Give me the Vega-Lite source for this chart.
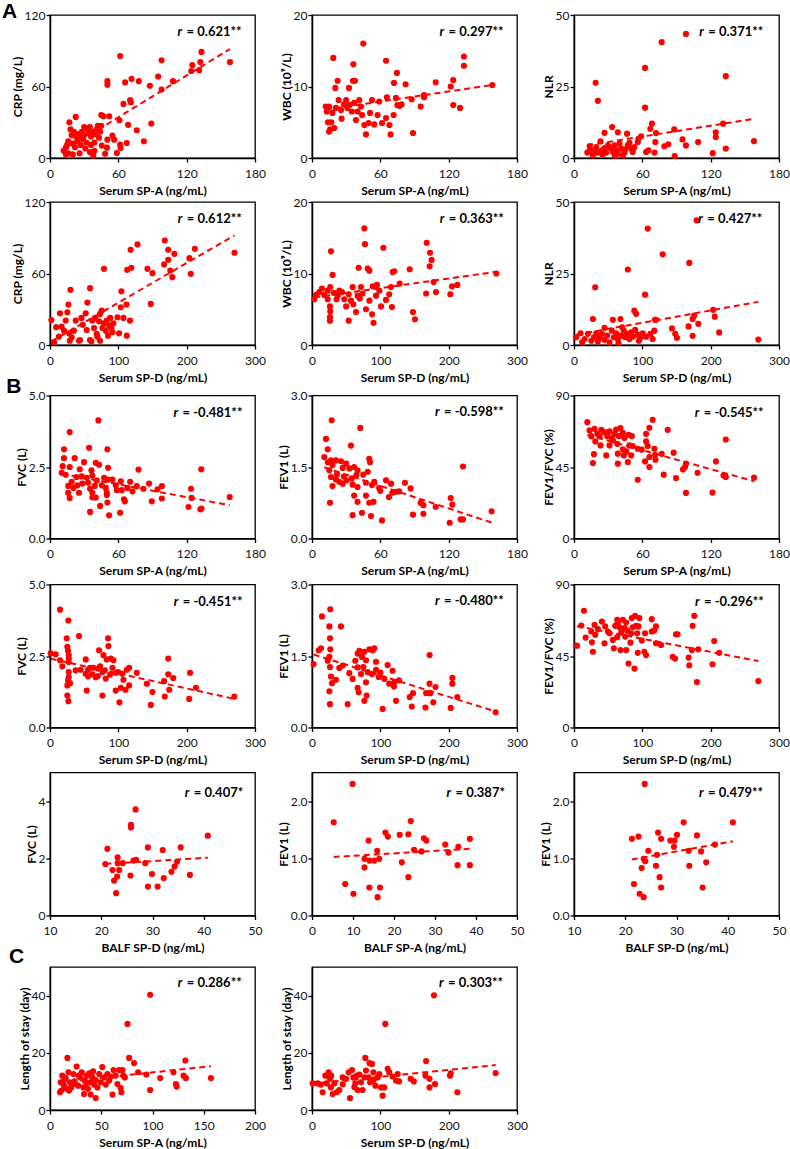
{
"$schema":"https://vega.github.io/schema/vega-lite/v6.json",
"background":"white",
"padding":{"left":1,"top":0,"right":5,"bottom":5},
"config":{
 "font":"Lato",
 "view":{"stroke":"black","strokeWidth":1.3},
 "axis":{"grid":false,"domainColor":"black","domainWidth":1.5,"tickColor":"black","tickWidth":1.3,"tickSize":4,"labelFont":"Lato","labelFontSize":12,"labelColor":"#111111","titleFont":"Lato","titleFontSize":12,"titleFontWeight":"bold","titleColor":"black","labelOverlap":false,"labelFlush":false,"labelBound":false},
 "axisX":{"labelPadding":6,"titlePadding":6},
 "axisY":{"labelPadding":1,"titlePadding":0},
 "title":{"font":"Liberation Sans","fontSize":21,"fontWeight":"bold","color":"black","anchor":"start","frame":"bounds"}
},
"datasets":{
"a1":[{"x":61.6,"y":85.5},{"x":98,"y":82},{"x":133,"y":89},{"x":125,"y":78},{"x":124,"y":73},{"x":132,"y":80.5},{"x":158,"y":80.5},{"x":131,"y":73.7},{"x":95,"y":68.4},{"x":108,"y":64.5},{"x":71.6,"y":66.4},{"x":78,"y":64.5},{"x":66,"y":63.4},{"x":50.4,"y":64.5},{"x":50.4,"y":61.4},{"x":87.7,"y":60.6},{"x":98,"y":57.5},{"x":70.4,"y":48.5},{"x":71,"y":46.8},{"x":64.5,"y":45.4},{"x":52,"y":35},{"x":45,"y":36},{"x":22.6,"y":34.5},{"x":61,"y":31.7},{"x":68.6,"y":27.8},{"x":88.9,"y":28.9},{"x":76.2,"y":23.3},{"x":82.4,"y":14},{"x":67.4,"y":12.6},{"x":61.6,"y":11.2},{"x":62,"y":8.4},{"x":58.7,"y":4.2},{"x":48.4,"y":3.6},{"x":54.8,"y":18.8},{"x":56.3,"y":15.4},{"x":50.4,"y":15.4},{"x":50,"y":8.7},{"x":45.5,"y":10.4},{"x":14,"y":9},{"x":12,"y":6},{"x":14,"y":3},{"x":16,"y":14},{"x":18,"y":24},{"x":17,"y":30},{"x":19,"y":19},{"x":20,"y":12},{"x":21,"y":22},{"x":22,"y":9},{"x":23,"y":18},{"x":24,"y":14},{"x":25,"y":20},{"x":26,"y":17},{"x":27,"y":11},{"x":28,"y":22},{"x":29,"y":16},{"x":30,"y":19},{"x":31,"y":8},{"x":32,"y":13},{"x":33,"y":24},{"x":34,"y":21},{"x":35,"y":26},{"x":36,"y":18},{"x":37,"y":4},{"x":38,"y":22},{"x":38,"y":2},{"x":39,"y":13},{"x":40,"y":20},{"x":41,"y":24},{"x":42,"y":27},{"x":43,"y":17},{"x":44,"y":22},{"x":35,"y":5},{"x":39,"y":6},{"x":26,"y":4},{"x":20,"y":3},{"x":16,"y":4},{"x":15,"y":11},{"x":47,"y":35},{"x":30,"y":26},{"x":36,"y":11},{"x":45,"y":27}],
"a2":[{"x":18.7,"y":14},{"x":45,"y":16},{"x":36.3,"y":13.1},{"x":22.5,"y":10.8},{"x":20.5,"y":9.8},{"x":37.7,"y":10.8},{"x":36,"y":10.8},{"x":32.5,"y":9.8},{"x":65,"y":13.6},{"x":74.6,"y":11.9},{"x":72,"y":10.5},{"x":65.8,"y":8.5},{"x":12,"y":7.2},{"x":13,"y":6.5},{"x":14,"y":5},{"x":15,"y":3.7},{"x":16,"y":4},{"x":17,"y":5},{"x":15,"y":7.2},{"x":18,"y":6.3},{"x":19.6,"y":4.2},{"x":23.4,"y":8.1},{"x":25.5,"y":6.7},{"x":30,"y":8.1},{"x":31,"y":7},{"x":33,"y":7.4},{"x":35,"y":6.5},{"x":37,"y":7.7},{"x":38.6,"y":5.3},{"x":40,"y":6.5},{"x":41.5,"y":8.1},{"x":44,"y":6},{"x":46,"y":4.6},{"x":47.4,"y":3.3},{"x":49.7,"y":4.9},{"x":51,"y":6.3},{"x":52.7,"y":8.1},{"x":54.7,"y":4.7},{"x":57.6,"y":6},{"x":59,"y":7.9},{"x":61.5,"y":4.9},{"x":65,"y":5.6},{"x":68,"y":4.6},{"x":69,"y":3.3},{"x":71.7,"y":6},{"x":73.7,"y":8.4},{"x":75,"y":7.4},{"x":28,"y":7.5},{"x":21,"y":7},{"x":26,"y":5.5},{"x":43,"y":7.2},{"x":133.4,"y":14.2},{"x":133.4,"y":12.9},{"x":108.6,"y":10.6},{"x":124,"y":10.9},{"x":121.8,"y":10},{"x":158.4,"y":10.2},{"x":82.2,"y":10.3},{"x":98.4,"y":8.8},{"x":98.4,"y":8.5},{"x":87.5,"y":8.2},{"x":95.4,"y":7.2},{"x":78.7,"y":7.5},{"x":77,"y":7.3},{"x":124,"y":7.4},{"x":130,"y":7},{"x":88.7,"y":3.5}],
"a3":[{"x":98.3,"y":43.4},{"x":77,"y":40.5},{"x":62.4,"y":31.5},{"x":19,"y":26.3},{"x":21,"y":20},{"x":62.4,"y":17.6},{"x":133.3,"y":28.6},{"x":33.5,"y":10.8},{"x":38.5,"y":9},{"x":26.8,"y":8.8},{"x":46.6,"y":8.5},{"x":68.5,"y":12},{"x":67,"y":10.2},{"x":72,"y":8.7},{"x":59,"y":7.6},{"x":88,"y":10},{"x":131,"y":12},{"x":124.5,"y":9},{"x":124.5,"y":7.3},{"x":95.3,"y":6.5},{"x":98.3,"y":4.4},{"x":109,"y":5.6},{"x":82.8,"y":4.8},{"x":79.3,"y":4.1},{"x":71.4,"y":5.6},{"x":158,"y":5.9},{"x":133.3,"y":3.3},{"x":121.8,"y":1.7},{"x":88.4,"y":0.7},{"x":63.3,"y":2.1},{"x":70.7,"y":1.9},{"x":65.3,"y":2.7},{"x":11.7,"y":1.9},{"x":13.8,"y":4.2},{"x":15.2,"y":2.1},{"x":16.6,"y":0.9},{"x":18,"y":2.7},{"x":19.5,"y":3.8},{"x":21,"y":1.9},{"x":23.3,"y":5.8},{"x":24.5,"y":2.7},{"x":26.8,"y":3.5},{"x":28.3,"y":1.9},{"x":29.8,"y":4.4},{"x":31.2,"y":3.8},{"x":32.7,"y":3.3},{"x":34.2,"y":2.1},{"x":35.6,"y":4.4},{"x":37,"y":2.7},{"x":38.5,"y":1.5},{"x":40,"y":5},{"x":41.4,"y":3.3},{"x":43,"y":0.9},{"x":44.3,"y":1.9},{"x":47.2,"y":4.4},{"x":48.7,"y":5.3},{"x":50.2,"y":3.3},{"x":51.6,"y":2.1},{"x":53,"y":3.8},{"x":56,"y":5.6},{"x":56.6,"y":6.7},{"x":14,"y":3},{"x":25,"y":1.2},{"x":36,"y":0.8},{"x":45,"y":3}],
"d1":[{"x":270,"y":77.4},{"x":212,"y":80.7},{"x":204,"y":72.9},{"x":206,"y":59.7},{"x":168,"y":87.7},{"x":173,"y":79.9},{"x":182,"y":76.5},{"x":167,"y":67.6},{"x":173,"y":71.5},{"x":176,"y":62.5},{"x":179,"y":56.9},{"x":142.6,"y":63.9},{"x":150,"y":60.3},{"x":147.5,"y":34.5},{"x":128,"y":84.4},{"x":118,"y":79.9},{"x":119,"y":64.8},{"x":113,"y":63.1},{"x":79,"y":63.9},{"x":104.5,"y":45.1},{"x":58.6,"y":47.7},{"x":30,"y":46.3},{"x":112,"y":33.9},{"x":103.6,"y":31.7},{"x":107.5,"y":22.7},{"x":117,"y":20.5},{"x":112.4,"y":7.8},{"x":101,"y":9.8},{"x":98.7,"y":23.3},{"x":2,"y":21},{"x":5.9,"y":2.2},{"x":13,"y":7},{"x":14.6,"y":26.6},{"x":17,"y":15.4},{"x":20.5,"y":12},{"x":23,"y":20.5},{"x":25.4,"y":27.5},{"x":28,"y":9.8},{"x":29,"y":3.6},{"x":31.8,"y":6.4},{"x":37.6,"y":20.5},{"x":42.5,"y":3.6},{"x":44,"y":4.2},{"x":46,"y":22.7},{"x":52.3,"y":26.6},{"x":53.7,"y":12.6},{"x":54.7,"y":35.6},{"x":58.6,"y":4.2},{"x":60.6,"y":3.1},{"x":62,"y":20.5},{"x":66,"y":22.7},{"x":68.4,"y":9.3},{"x":69.4,"y":7},{"x":71.8,"y":19.9},{"x":73.3,"y":26.1},{"x":75.7,"y":28.9},{"x":76.7,"y":14.3},{"x":79,"y":18.2},{"x":81.6,"y":12},{"x":83,"y":20.5},{"x":85,"y":7.8},{"x":86.5,"y":16.3},{"x":88,"y":22.7},{"x":90,"y":14.3},{"x":91.4,"y":10.7},{"x":92.8,"y":18.2},{"x":73.3,"y":3.6},{"x":64.5,"y":14.3},{"x":26.9,"y":33.9},{"x":9,"y":15},{"x":35,"y":12},{"x":48,"y":17}],
"d2":[{"x":3.4,"y":6.4},{"x":10.7,"y":7.4},{"x":27.8,"y":13.1},{"x":30.2,"y":9.8},{"x":26.8,"y":8.1},{"x":23,"y":7.6},{"x":23,"y":6.4},{"x":26.3,"y":5.4},{"x":26.8,"y":4.7},{"x":26.3,"y":3.9},{"x":26.3,"y":3.4},{"x":40,"y":7.6},{"x":44,"y":7.4},{"x":50,"y":5.4},{"x":53.7,"y":3.4},{"x":57,"y":6.2},{"x":60.5,"y":5.7},{"x":64.4,"y":4.6},{"x":66.8,"y":6.9},{"x":68.3,"y":10.8},{"x":71.7,"y":8.1},{"x":74,"y":7.2},{"x":76.6,"y":16.3},{"x":77.6,"y":14.1},{"x":81.5,"y":10.7},{"x":84,"y":10.4},{"x":84,"y":6.2},{"x":88.8,"y":8.2},{"x":88,"y":4.3},{"x":90,"y":3.1},{"x":79,"y":5},{"x":93.7,"y":6.9},{"x":98.5,"y":7.6},{"x":101,"y":5.4},{"x":104.4,"y":13.6},{"x":108.3,"y":6.3},{"x":113,"y":7.1},{"x":115.6,"y":8.1},{"x":118,"y":10.2},{"x":120.5,"y":10.3},{"x":117,"y":5.3},{"x":59.5,"y":8.1},{"x":53.7,"y":7.1},{"x":47.3,"y":6.4},{"x":37.6,"y":6.9},{"x":14.6,"y":7.9},{"x":18,"y":7},{"x":36,"y":6.4},{"x":167.8,"y":14.3},{"x":172.7,"y":12.9},{"x":175,"y":11.9},{"x":172.2,"y":11},{"x":143,"y":10.6},{"x":128.3,"y":8.6},{"x":178,"y":8.8},{"x":167,"y":7.2},{"x":181.5,"y":7.4},{"x":202.4,"y":7.1},{"x":205,"y":8.2},{"x":212.7,"y":8.4},{"x":269.8,"y":10},{"x":147.8,"y":4.6},{"x":150.7,"y":3.6},{"x":6,"y":7},{"x":32,"y":7.3},{"x":70,"y":6.5},{"x":95,"y":8.4}],
"d3":[{"x":179.4,"y":43.6},{"x":108,"y":40.7},{"x":129.8,"y":31.7},{"x":168.7,"y":28.7},{"x":78.8,"y":26.4},{"x":104,"y":17.6},{"x":31,"y":20.2},{"x":88.3,"y":12},{"x":90.9,"y":10.9},{"x":120,"y":8.8},{"x":203.7,"y":12.3},{"x":206,"y":9.9},{"x":175.9,"y":10.3},{"x":173.6,"y":9.1},{"x":181.9,"y":7.4},{"x":212.5,"y":4.4},{"x":143.4,"y":5.8},{"x":148.2,"y":3.9},{"x":150.7,"y":2.5},{"x":167.7,"y":6.5},{"x":173.6,"y":3.2},{"x":269.8,"y":1.9},{"x":27.7,"y":9.1},{"x":56.9,"y":8.8},{"x":68,"y":9.1},{"x":70.5,"y":6.2},{"x":3.4,"y":2.7},{"x":9.7,"y":4.1},{"x":15.6,"y":2.1},{"x":20.4,"y":3.9},{"x":25.3,"y":1.5},{"x":29.2,"y":2.7},{"x":32.6,"y":4.1},{"x":37.4,"y":2.5},{"x":40.8,"y":3.9},{"x":44.7,"y":1.8},{"x":48.6,"y":3.3},{"x":52,"y":0.9},{"x":55.4,"y":5},{"x":58.3,"y":2.7},{"x":61.7,"y":4.1},{"x":64.2,"y":2.1},{"x":69,"y":3.3},{"x":72.9,"y":5},{"x":74.9,"y":2.7},{"x":77.8,"y":3.9},{"x":81.2,"y":2.1},{"x":83.6,"y":4.4},{"x":86,"y":2.9},{"x":89.5,"y":5.3},{"x":93.3,"y":3.6},{"x":97.2,"y":2.5},{"x":100.6,"y":4.1},{"x":105.5,"y":2.9},{"x":111.8,"y":3.9},{"x":115.2,"y":2.1},{"x":117.6,"y":5},{"x":118.6,"y":8.8},{"x":44.7,"y":6},{"x":12,"y":1},{"x":35,"y":1.2},{"x":65,"y":0.8},{"x":95,"y":1.5}],
"b1":[{"x":42.5,"y":4.13},{"x":17.3,"y":3.72},{"x":12.3,"y":3.12},{"x":34.3,"y":3.17},{"x":50.4,"y":3.12},{"x":40.2,"y":2.65},{"x":43.1,"y":2.58},{"x":12.3,"y":2.81},{"x":21.7,"y":2.81},{"x":11.1,"y":2.53},{"x":17.3,"y":2.5},{"x":29.9,"y":2.67},{"x":51,"y":2.47},{"x":26.1,"y":2.42},{"x":36.4,"y":2.38},{"x":77.7,"y":2.41},{"x":132.8,"y":2.42},{"x":10.3,"y":2.3},{"x":13.8,"y":2.23},{"x":23.2,"y":2.15},{"x":27.9,"y":2.17},{"x":32.3,"y":2.12},{"x":37.2,"y":2.2},{"x":41,"y":2.03},{"x":47.5,"y":2.12},{"x":51,"y":2.06},{"x":54.8,"y":2.06},{"x":62.2,"y":2},{"x":70.4,"y":1.98},{"x":19,"y":1.98},{"x":16,"y":1.84},{"x":20.5,"y":1.77},{"x":24,"y":1.86},{"x":28.4,"y":1.92},{"x":33.4,"y":1.95},{"x":35.2,"y":1.74},{"x":39.3,"y":1.84},{"x":45.5,"y":1.86},{"x":49,"y":1.77},{"x":57.8,"y":1.86},{"x":63,"y":1.69},{"x":68,"y":1.77},{"x":72.4,"y":1.65},{"x":76.2,"y":1.83},{"x":87,"y":1.92},{"x":82,"y":1.74},{"x":98.2,"y":1.83},{"x":94.4,"y":1.72},{"x":123.8,"y":1.74},{"x":16,"y":1.6},{"x":25.5,"y":1.6},{"x":37.2,"y":1.6},{"x":49.9,"y":1.6},{"x":58.7,"y":1.69},{"x":65,"y":1.37},{"x":65.8,"y":1.3},{"x":17.3,"y":1.42},{"x":37.2,"y":1.44},{"x":40.2,"y":1.43},{"x":49.9,"y":1.52},{"x":44,"y":1.14},{"x":50.4,"y":1.26},{"x":89.4,"y":1.3},{"x":98.2,"y":1.4},{"x":124.3,"y":1.42},{"x":121.6,"y":1.1},{"x":132,"y":1.02},{"x":133,"y":1.05},{"x":157.8,"y":1.45},{"x":35.2,"y":0.93},{"x":51.9,"y":0.81},{"x":61.6,"y":0.9}],
"b2":[{"x":17.3,"y":2.48},{"x":12.3,"y":2.09},{"x":13.8,"y":1.87},{"x":42.4,"y":2.32},{"x":34.2,"y":1.95},{"x":10.8,"y":1.71},{"x":13.8,"y":1.6},{"x":16.7,"y":1.64},{"x":18,"y":1.54},{"x":21,"y":1.64},{"x":25.5,"y":1.62},{"x":30,"y":1.57},{"x":37,"y":1.5},{"x":40,"y":1.43},{"x":27,"y":1.48},{"x":32.8,"y":1.47},{"x":15.2,"y":1.43},{"x":16.7,"y":1.29},{"x":21,"y":1.24},{"x":24,"y":1.19},{"x":27,"y":1.15},{"x":30.4,"y":1.22},{"x":35,"y":1.26},{"x":39,"y":1.33},{"x":45,"y":1.34},{"x":50.3,"y":1.67},{"x":51,"y":1.6},{"x":49,"y":1.4},{"x":18,"y":1.1},{"x":35.7,"y":1.13},{"x":40,"y":1.08},{"x":47.4,"y":1.17},{"x":52.7,"y":1.12},{"x":54.7,"y":1.19},{"x":59,"y":1.06},{"x":65,"y":1.22},{"x":69.4,"y":1.15},{"x":73.7,"y":0.98},{"x":37,"y":0.9},{"x":40,"y":0.77},{"x":47.4,"y":0.9},{"x":50.3,"y":0.75},{"x":54,"y":0.77},{"x":15.8,"y":0.75},{"x":35.7,"y":0.49},{"x":43.9,"y":0.54},{"x":51.8,"y":0.47},{"x":61.5,"y":0.38},{"x":132.6,"y":1.51},{"x":81.6,"y":1.17},{"x":86.6,"y":1.05},{"x":70.5,"y":0.96},{"x":76.4,"y":0.99},{"x":95.4,"y":0.75},{"x":97.8,"y":0.7},{"x":108.6,"y":0.66},{"x":121.8,"y":0.85},{"x":123.2,"y":0.71},{"x":130.5,"y":0.4},{"x":132.6,"y":0.4},{"x":120.9,"y":0.33},{"x":88.7,"y":0.5},{"x":97.8,"y":0.52},{"x":157.7,"y":0.57},{"x":67.6,"y":0.87},{"x":22,"y":1.35},{"x":28,"y":1.3},{"x":60,"y":1.0}],
"b3":[{"x":11.7,"y":73.2},{"x":69.1,"y":74.7},{"x":66.2,"y":69.7},{"x":82.3,"y":68.4},{"x":13.7,"y":68},{"x":15.2,"y":64.4},{"x":18,"y":69},{"x":20.4,"y":65.9},{"x":22.5,"y":64.4},{"x":24,"y":68.4},{"x":26.8,"y":66.9},{"x":29.2,"y":64.4},{"x":31.2,"y":67.4},{"x":33.3,"y":63.2},{"x":35.6,"y":65.9},{"x":37,"y":68.6},{"x":39.4,"y":64.4},{"x":40.8,"y":69.5},{"x":42.9,"y":66.5},{"x":44.3,"y":63.2},{"x":18.7,"y":61.1},{"x":23.3,"y":58.6},{"x":17.5,"y":53.1},{"x":16.6,"y":47.5},{"x":28.3,"y":52.3},{"x":31.2,"y":58.6},{"x":34.2,"y":61.7},{"x":38,"y":59.6},{"x":38.5,"y":53.4},{"x":38.5,"y":47.1},{"x":42.9,"y":56.1},{"x":43.8,"y":52.3},{"x":45.9,"y":54.8},{"x":47.3,"y":48.1},{"x":48.7,"y":58.6},{"x":50.2,"y":52.3},{"x":48,"y":65.3},{"x":50.8,"y":64.4},{"x":51.6,"y":58.2},{"x":56,"y":56.5},{"x":59.5,"y":55.9},{"x":62.4,"y":48.5},{"x":63.3,"y":65.9},{"x":63.3,"y":61.1},{"x":64.7,"y":58.2},{"x":66.2,"y":51.3},{"x":66.2,"y":45},{"x":70.6,"y":56.5},{"x":71.5,"y":49.6},{"x":71.2,"y":52.7},{"x":77,"y":53.3},{"x":87.5,"y":54},{"x":78.8,"y":40.2},{"x":56,"y":37},{"x":89.6,"y":38.1},{"x":97.5,"y":45},{"x":95.7,"y":43.5},{"x":98.3,"y":47.1},{"x":108.5,"y":41.4},{"x":124.6,"y":48.5},{"x":121.6,"y":28.9},{"x":98.3,"y":28.7},{"x":131.3,"y":39.7},{"x":133.3,"y":38.7},{"x":133.3,"y":62.3},{"x":158.1,"y":38.3}],
"e1":[{"x":14.7,"y":4.12},{"x":26.9,"y":3.74},{"x":42.5,"y":3.2},{"x":24.4,"y":3.12},{"x":85,"y":3.12},{"x":25.4,"y":2.82},{"x":26.4,"y":2.68},{"x":85.5,"y":2.85},{"x":71.8,"y":2.7},{"x":1,"y":2.59},{"x":8.3,"y":2.56},{"x":27.4,"y":2.53},{"x":27.4,"y":2.41},{"x":27.4,"y":2.29},{"x":52.3,"y":2.38},{"x":78.2,"y":2.53},{"x":89,"y":2.41},{"x":92.8,"y":2.35},{"x":83,"y":2.38},{"x":173,"y":2.41},{"x":14.7,"y":2.35},{"x":18,"y":2.14},{"x":37.6,"y":2},{"x":44.9,"y":2.02},{"x":55.7,"y":2.02},{"x":58.6,"y":2.09},{"x":63.5,"y":2.09},{"x":70.4,"y":2.06},{"x":73.3,"y":2.14},{"x":76.7,"y":1.94},{"x":80.1,"y":2},{"x":91.4,"y":2.09},{"x":96.2,"y":1.91},{"x":99.7,"y":1.94},{"x":106,"y":1.88},{"x":112.4,"y":2.02},{"x":115.8,"y":2.09},{"x":127,"y":1.91},{"x":52.3,"y":1.88},{"x":55.7,"y":1.79},{"x":62,"y":1.86},{"x":66.9,"y":1.76},{"x":81.6,"y":1.71},{"x":27.4,"y":1.94},{"x":27.4,"y":1.76},{"x":26.4,"y":1.65},{"x":29.3,"y":1.55},{"x":25.4,"y":1.47},{"x":53.7,"y":1.29},{"x":96.2,"y":1.29},{"x":103.6,"y":1.39},{"x":107.5,"y":1.67},{"x":115.8,"y":1.47},{"x":110.5,"y":1.32},{"x":141.7,"y":1.53},{"x":150,"y":1.24},{"x":167,"y":1.62},{"x":173,"y":1.86},{"x":180.3,"y":1.73},{"x":205,"y":1.91},{"x":213.5,"y":1.39},{"x":174.5,"y":1.32},{"x":168,"y":1.08},{"x":203.7,"y":1},{"x":269.7,"y":1.08},{"x":26.9,"y":0.92},{"x":76.7,"y":1.12},{"x":101.6,"y":0.88},{"x":147.5,"y":0.79},{"x":25.4,"y":1.12},{"x":70,"y":1.8},{"x":88,"y":1.85}],
"e2":[{"x":2.4,"y":1.33},{"x":9.8,"y":1.62},{"x":13.2,"y":1.66},{"x":14.6,"y":2.33},{"x":26.8,"y":2.48},{"x":25.4,"y":2.12},{"x":26.3,"y":1.87},{"x":26.8,"y":1.64},{"x":25.4,"y":1.48},{"x":23,"y":1.4},{"x":26.3,"y":1.27},{"x":27.8,"y":1.07},{"x":29.3,"y":0.93},{"x":25.4,"y":0.76},{"x":26.3,"y":0.49},{"x":42.4,"y":2.12},{"x":40,"y":1.25},{"x":52.2,"y":0.49},{"x":54.6,"y":1.14},{"x":59.5,"y":1.02},{"x":63.4,"y":1.4},{"x":66.8,"y":1.55},{"x":69.3,"y":1.61},{"x":73.2,"y":1.48},{"x":76.6,"y":1.59},{"x":79,"y":1.41},{"x":84,"y":1.64},{"x":88.8,"y":1.62},{"x":91.2,"y":1.66},{"x":66.8,"y":1.26},{"x":71.7,"y":1.12},{"x":75,"y":1.27},{"x":79,"y":0.95},{"x":81.5,"y":1.16},{"x":87.8,"y":1.12},{"x":93.7,"y":1.21},{"x":93.7,"y":1.38},{"x":97.6,"y":1.06},{"x":66.8,"y":0.83},{"x":68.3,"y":0.74},{"x":76.6,"y":0.56},{"x":80,"y":0.67},{"x":103.4,"y":0.39},{"x":110.7,"y":1.31},{"x":105.8,"y":1.02},{"x":113,"y":0.92},{"x":118,"y":1.19},{"x":120.5,"y":0.95},{"x":123,"y":0.56},{"x":172.2,"y":1.52},{"x":143,"y":0.64},{"x":147.8,"y":0.72},{"x":127.3,"y":0.99},{"x":120,"y":0.86},{"x":146,"y":0.44},{"x":167,"y":0.72},{"x":173.2,"y":0.72},{"x":172,"y":0.92},{"x":180.8,"y":0.85},{"x":205.4,"y":1.04},{"x":205.4,"y":0.92},{"x":203,"y":0.41},{"x":212.7,"y":0.64},{"x":166,"y":0.42},{"x":177.5,"y":0.53},{"x":268.8,"y":0.32},{"x":45,"y":1.3},{"x":35,"y":1.0},{"x":100,"y":1.15}],
"e3":[{"x":4.4,"y":51.5},{"x":10.7,"y":64.2},{"x":14.6,"y":73.5},{"x":17,"y":56.6},{"x":26.3,"y":53.6},{"x":27.7,"y":47.7},{"x":25.3,"y":60.4},{"x":30.1,"y":64.6},{"x":31.1,"y":58.3},{"x":35,"y":61.9},{"x":40.8,"y":66.7},{"x":45.7,"y":63.6},{"x":49.6,"y":60.4},{"x":52,"y":59.3},{"x":56.9,"y":55.1},{"x":58.3,"y":49.8},{"x":60.3,"y":64},{"x":63.2,"y":67.8},{"x":64.2,"y":65.7},{"x":66.6,"y":63.1},{"x":68,"y":48.7},{"x":69,"y":59.7},{"x":71.5,"y":67.8},{"x":73.9,"y":62.5},{"x":74.9,"y":57.2},{"x":76.3,"y":66.1},{"x":77.8,"y":61},{"x":79.7,"y":40.3},{"x":82.6,"y":53.4},{"x":83.6,"y":59.3},{"x":84.6,"y":68.9},{"x":86,"y":63.1},{"x":88.5,"y":37.1},{"x":89.5,"y":70.3},{"x":90.9,"y":64},{"x":92.4,"y":59.3},{"x":93.3,"y":47},{"x":94.3,"y":63.6},{"x":95.7,"y":68.9},{"x":99.2,"y":54.7},{"x":63.2,"y":56.8},{"x":76.3,"y":48.7},{"x":44.7,"y":53},{"x":104,"y":59.3},{"x":113.8,"y":68.2},{"x":113.8,"y":60.4},{"x":103,"y":47.7},{"x":105.5,"y":45.6},{"x":117.6,"y":61},{"x":120,"y":63.6},{"x":120,"y":53},{"x":127.4,"y":51.9},{"x":144.4,"y":44.5},{"x":147.8,"y":43.4},{"x":149.2,"y":58.7},{"x":151.6,"y":58.7},{"x":167.7,"y":44},{"x":168.7,"y":39.2},{"x":172.6,"y":48.7},{"x":173.6,"y":64},{"x":176,"y":70.3},{"x":179.9,"y":28.6},{"x":181.9,"y":49.2},{"x":202.7,"y":39.8},{"x":205.2,"y":54.4},{"x":212.4,"y":47},{"x":269.8,"y":29.2}],
"f1":[{"x":20.8,"y":1.8},{"x":21.2,"y":2.33},{"x":22.2,"y":1.59},{"x":22.5,"y":1.22},{"x":22.9,"y":0.78},{"x":23.1,"y":1.36},{"x":23.2,"y":2.03},{"x":23.2,"y":1.83},{"x":23.5,"y":1.59},{"x":24.2,"y":1.83},{"x":25.8,"y":3.17},{"x":25.8,"y":3.08},{"x":26.7,"y":3.71},{"x":25.7,"y":1.4},{"x":26.3,"y":1.92},{"x":26.8,"y":1.95},{"x":28.6,"y":1.83},{"x":29.1,"y":2.38},{"x":29.1,"y":1.01},{"x":29.9,"y":1.45},{"x":31,"y":1.01},{"x":32,"y":2.29},{"x":32.2,"y":1.31},{"x":33.7,"y":1.53},{"x":34.3,"y":1.71},{"x":34.8,"y":1.88},{"x":35.5,"y":2.38},{"x":37.3,"y":1.42},{"x":40.8,"y":2.79}],
"f2":[{"x":5.3,"y":1.63},{"x":9.9,"y":2.3},{"x":8.1,"y":0.55},{"x":10.1,"y":0.38},{"x":12.8,"y":0.99},{"x":13.8,"y":1.31},{"x":14,"y":0.96},{"x":15.2,"y":0.96},{"x":15.9,"y":1.13},{"x":14,"y":0.49},{"x":16,"y":0.32},{"x":16.4,"y":0.99},{"x":16.6,"y":0.49},{"x":17.9,"y":1.45},{"x":18.5,"y":1.38},{"x":12.8,"y":0.84},{"x":21.4,"y":1.41},{"x":23.5,"y":1.42},{"x":24.1,"y":1.65},{"x":21.9,"y":0.93},{"x":23.5,"y":0.67},{"x":24.9,"y":1.15},{"x":26.7,"y":1.12},{"x":27.3,"y":1.35},{"x":27.9,"y":1.31},{"x":32.5,"y":1.24},{"x":33.3,"y":1.1},{"x":35.7,"y":1.2},{"x":35.5,"y":0.88},{"x":38.5,"y":1.34},{"x":38.5,"y":0.88}],
"f3":[{"x":21.3,"y":1.34},{"x":22.6,"y":1.38},{"x":21.7,"y":0.55},{"x":22.8,"y":0.38},{"x":23.6,"y":0.32},{"x":23.2,"y":0.83},{"x":23.8,"y":2.3},{"x":23.6,"y":0.99},{"x":23.9,"y":0.95},{"x":24.5,"y":1.13},{"x":26,"y":0.87},{"x":26.2,"y":1.06},{"x":26.4,"y":1.45},{"x":26.7,"y":0.67},{"x":27,"y":1.34},{"x":27,"y":0.49},{"x":28.8,"y":1.31},{"x":29.5,"y":1.2},{"x":29.6,"y":1.31},{"x":30.1,"y":1.41},{"x":31.4,"y":1.63},{"x":32.4,"y":1.13},{"x":32.5,"y":0.87},{"x":34,"y":1.4},{"x":34.8,"y":1.12},{"x":35.1,"y":0.49},{"x":35.8,"y":0.93},{"x":37.5,"y":1.24},{"x":41,"y":1.63}],
"c1":[{"x":97.7,"y":40.3},{"x":75.6,"y":30.1},{"x":77.2,"y":18.2},{"x":82,"y":16.4},{"x":17,"y":18.2},{"x":132,"y":17.3},{"x":130.3,"y":12},{"x":132.6,"y":11.2},{"x":120.5,"y":13.2},{"x":107.5,"y":11.2},{"x":94,"y":12.4},{"x":86,"y":13.2},{"x":157,"y":11.2},{"x":97.7,"y":7},{"x":122.8,"y":9.1},{"x":123.5,"y":8.2},{"x":61,"y":5.4},{"x":69.7,"y":6.2},{"x":44.6,"y":4.2},{"x":9.8,"y":6.2},{"x":10.4,"y":9.7},{"x":12,"y":12},{"x":13.7,"y":8.5},{"x":15.3,"y":11.2},{"x":16.3,"y":7.4},{"x":18,"y":13.2},{"x":19.5,"y":9.7},{"x":20.8,"y":7.9},{"x":22.8,"y":12.6},{"x":24,"y":10},{"x":26,"y":15.2},{"x":27.4,"y":8.5},{"x":29.3,"y":11.4},{"x":31,"y":13.2},{"x":32.6,"y":7.9},{"x":33.9,"y":10.3},{"x":35.8,"y":12},{"x":37,"y":7.4},{"x":38.4,"y":12.8},{"x":39.7,"y":9.7},{"x":41.4,"y":11.4},{"x":43,"y":8.9},{"x":44.6,"y":10.5},{"x":46.3,"y":7.9},{"x":48,"y":12.6},{"x":49.5,"y":9.7},{"x":51,"y":15},{"x":52.8,"y":11.4},{"x":54.4,"y":8.9},{"x":56,"y":12.6},{"x":57.7,"y":10.3},{"x":59.3,"y":11.7},{"x":62,"y":14},{"x":64,"y":12},{"x":65.8,"y":9.1},{"x":67.4,"y":14},{"x":69,"y":7.7},{"x":70.7,"y":14},{"x":71.7,"y":12},{"x":73,"y":11.4},{"x":11,"y":6.8},{"x":18.6,"y":6.8},{"x":33.2,"y":5.6},{"x":39.7,"y":5.4},{"x":14,"y":10.5},{"x":22,"y":9},{"x":28,"y":12},{"x":36,"y":9.5},{"x":42,"y":13.5}],
"c2":[{"x":107.3,"y":30.1},{"x":78,"y":18.2},{"x":84,"y":16.4},{"x":1,"y":9.3},{"x":8.3,"y":9.3},{"x":13,"y":8.9},{"x":15.6,"y":6.2},{"x":19.5,"y":12},{"x":21.5,"y":9.3},{"x":24.4,"y":13.2},{"x":26.3,"y":10.9},{"x":27.8,"y":7.9},{"x":30.2,"y":5.6},{"x":32.7,"y":9.3},{"x":36,"y":6.2},{"x":40,"y":7},{"x":44.9,"y":11.4},{"x":49.8,"y":10.9},{"x":53.7,"y":13.2},{"x":55.6,"y":4.2},{"x":58.5,"y":14},{"x":60.5,"y":11.4},{"x":63.4,"y":9.3},{"x":65.4,"y":12},{"x":66.8,"y":7},{"x":69.3,"y":12.4},{"x":71.7,"y":9.7},{"x":74,"y":7},{"x":76.6,"y":11.4},{"x":79,"y":13.8},{"x":83,"y":11.4},{"x":85,"y":9.7},{"x":87.8,"y":16.1},{"x":89.8,"y":13.2},{"x":92.7,"y":8.5},{"x":96.1,"y":11.4},{"x":98.5,"y":12.6},{"x":101,"y":7.9},{"x":103.4,"y":5},{"x":105.8,"y":7.9},{"x":110.7,"y":14.4},{"x":113,"y":13.2},{"x":118,"y":11.7},{"x":123,"y":10.3},{"x":125.4,"y":12.6},{"x":178.5,"y":40.1},{"x":167,"y":17.1},{"x":166,"y":12},{"x":172,"y":10.9},{"x":172,"y":7.9},{"x":180,"y":9.1},{"x":203,"y":12.8},{"x":202,"y":12},{"x":212.7,"y":6.2},{"x":268.8,"y":12.9},{"x":144.4,"y":10.9},{"x":149,"y":10},{"x":127.3,"y":10},{"x":28,"y":12},{"x":45,"y":9},{"x":62,"y":8},{"x":90,"y":10.5}]
},
"vconcat":[
{"spacing":-2,"vconcat":[
 {"hconcat":[
  {"title":{"text":"A","offset":-13,"dx":-9},"width":205,"height":143,"data":{"name":"a1"},"layer":[
   {"transform":[{"regression":"y","on":"x"}],"mark":{"type":"line","color":"#ff0000","strokeDash":[6,4],"strokeWidth":2},"encoding":{"x":{"field":"x","type":"quantitative"},"y":{"field":"y","type":"quantitative"}}},
   {"mark":{"type":"circle","color":"#ff0000","size":38,"opacity":1},"encoding":{"x":{"field":"x","type":"quantitative","scale":{"domain":[0,180],"nice":false},"axis":{"title":"Serum SP-A (ng/mL)","values":[0,30,60,90,120,150,180],"labelExpr":"datum.value % 60 === 0 ? datum.label : ''"}},"y":{"field":"y","type":"quantitative","scale":{"domain":[0,120],"nice":false},"axis":{"title":"CRP (mg/L)","values":[0,60,120]}}}},
   {"data":{"values":[{}]},"mark":{"type":"text","text":"r","fontStyle":"italic","fontWeight":"bold","fontSize":13,"align":"left","baseline":"alphabetic","color":"black"},"encoding":{"x":{"datum":112},"y":{"datum":102}}},
   {"data":{"values":[{}]},"mark":{"type":"text","text":"= 0.621**","fontWeight":"bold","fontSize":13,"align":"left","baseline":"alphabetic","dx":9,"color":"black"},"encoding":{"x":{"datum":112},"y":{"datum":102}}}
  ]},
  {"width":205,"height":143,"data":{"name":"a2"},"layer":[
   {"transform":[{"regression":"y","on":"x"}],"mark":{"type":"line","color":"#ff0000","strokeDash":[6,4],"strokeWidth":2},"encoding":{"x":{"field":"x","type":"quantitative"},"y":{"field":"y","type":"quantitative"}}},
   {"mark":{"type":"circle","color":"#ff0000","size":38,"opacity":1},"encoding":{"x":{"field":"x","type":"quantitative","scale":{"domain":[0,180],"nice":false},"axis":{"title":"Serum SP-A (ng/mL)","values":[0,30,60,90,120,150,180],"labelExpr":"datum.value % 60 === 0 ? datum.label : ''"}},"y":{"field":"y","type":"quantitative","scale":{"domain":[0,20],"nice":false},"axis":{"title":"WBC (10⁹/L)","values":[0,10,20]}}}},
   {"data":{"values":[{}]},"mark":{"type":"text","text":"r","fontStyle":"italic","fontWeight":"bold","fontSize":13,"align":"left","baseline":"alphabetic","color":"black"},"encoding":{"x":{"datum":112},"y":{"datum":17}}},
   {"data":{"values":[{}]},"mark":{"type":"text","text":"= 0.297**","fontWeight":"bold","fontSize":13,"align":"left","baseline":"alphabetic","dx":9,"color":"black"},"encoding":{"x":{"datum":112},"y":{"datum":17}}}
  ]},
  {"width":205,"height":143,"data":{"name":"a3"},"layer":[
   {"transform":[{"regression":"y","on":"x"}],"mark":{"type":"line","color":"#ff0000","strokeDash":[6,4],"strokeWidth":2},"encoding":{"x":{"field":"x","type":"quantitative"},"y":{"field":"y","type":"quantitative"}}},
   {"mark":{"type":"circle","color":"#ff0000","size":38,"opacity":1},"encoding":{"x":{"field":"x","type":"quantitative","scale":{"domain":[0,180],"nice":false},"axis":{"title":"Serum SP-A (ng/mL)","values":[0,30,60,90,120,150,180],"labelExpr":"datum.value % 60 === 0 ? datum.label : ''"}},"y":{"field":"y","type":"quantitative","scale":{"domain":[0,50],"nice":false},"axis":{"title":"NLR","values":[0,25,50]}}}},
   {"data":{"values":[{}]},"mark":{"type":"text","text":"r","fontStyle":"italic","fontWeight":"bold","fontSize":13,"align":"left","baseline":"alphabetic","color":"black"},"encoding":{"x":{"datum":110},"y":{"datum":42.6}}},
   {"data":{"values":[{}]},"mark":{"type":"text","text":"= 0.371**","fontWeight":"bold","fontSize":13,"align":"left","baseline":"alphabetic","dx":9,"color":"black"},"encoding":{"x":{"datum":110},"y":{"datum":42.6}}}
  ]}
 ],"spacing":57,"bounds":"flush"},
 {"hconcat":[
  {"width":205,"height":143,"data":{"name":"d1"},"layer":[
   {"transform":[{"regression":"y","on":"x"}],"mark":{"type":"line","color":"#ff0000","strokeDash":[6,4],"strokeWidth":2},"encoding":{"x":{"field":"x","type":"quantitative"},"y":{"field":"y","type":"quantitative"}}},
   {"mark":{"type":"circle","color":"#ff0000","size":38,"opacity":1},"encoding":{"x":{"field":"x","type":"quantitative","scale":{"domain":[0,300],"nice":false},"axis":{"title":"Serum SP-D (ng/mL)","values":[0,50,100,150,200,250,300],"labelExpr":"datum.value % 100 === 0 ? datum.label : ''"}},"y":{"field":"y","type":"quantitative","scale":{"domain":[0,120],"nice":false},"axis":{"title":"CRP (mg/L)","values":[0,60,120]}}}},
   {"data":{"values":[{}]},"mark":{"type":"text","text":"r","fontStyle":"italic","fontWeight":"bold","fontSize":13,"align":"left","baseline":"alphabetic","color":"black"},"encoding":{"x":{"datum":187},"y":{"datum":102}}},
   {"data":{"values":[{}]},"mark":{"type":"text","text":"= 0.612**","fontWeight":"bold","fontSize":13,"align":"left","baseline":"alphabetic","dx":9,"color":"black"},"encoding":{"x":{"datum":187},"y":{"datum":102}}}
  ]},
  {"width":205,"height":143,"data":{"name":"d2"},"layer":[
   {"transform":[{"regression":"y","on":"x"}],"mark":{"type":"line","color":"#ff0000","strokeDash":[6,4],"strokeWidth":2},"encoding":{"x":{"field":"x","type":"quantitative"},"y":{"field":"y","type":"quantitative"}}},
   {"mark":{"type":"circle","color":"#ff0000","size":38,"opacity":1},"encoding":{"x":{"field":"x","type":"quantitative","scale":{"domain":[0,300],"nice":false},"axis":{"title":"Serum SP-D (ng/mL)","values":[0,50,100,150,200,250,300],"labelExpr":"datum.value % 100 === 0 ? datum.label : ''"}},"y":{"field":"y","type":"quantitative","scale":{"domain":[0,20],"nice":false},"axis":{"title":"WBC (10⁹/L)","values":[0,10,20]}}}},
   {"data":{"values":[{}]},"mark":{"type":"text","text":"r","fontStyle":"italic","fontWeight":"bold","fontSize":13,"align":"left","baseline":"alphabetic","color":"black"},"encoding":{"x":{"datum":187},"y":{"datum":17}}},
   {"data":{"values":[{}]},"mark":{"type":"text","text":"= 0.363**","fontWeight":"bold","fontSize":13,"align":"left","baseline":"alphabetic","dx":9,"color":"black"},"encoding":{"x":{"datum":187},"y":{"datum":17}}}
  ]},
  {"width":205,"height":143,"data":{"name":"d3"},"layer":[
   {"transform":[{"regression":"y","on":"x"}],"mark":{"type":"line","color":"#ff0000","strokeDash":[6,4],"strokeWidth":2},"encoding":{"x":{"field":"x","type":"quantitative"},"y":{"field":"y","type":"quantitative"}}},
   {"mark":{"type":"circle","color":"#ff0000","size":38,"opacity":1},"encoding":{"x":{"field":"x","type":"quantitative","scale":{"domain":[0,300],"nice":false},"axis":{"title":"Serum SP-D (ng/mL)","values":[0,50,100,150,200,250,300],"labelExpr":"datum.value % 100 === 0 ? datum.label : ''"}},"y":{"field":"y","type":"quantitative","scale":{"domain":[0,50],"nice":false},"axis":{"title":"NLR","values":[0,25,50]}}}},
   {"data":{"values":[{}]},"mark":{"type":"text","text":"r","fontStyle":"italic","fontWeight":"bold","fontSize":13,"align":"left","baseline":"alphabetic","color":"black"},"encoding":{"x":{"datum":182},"y":{"datum":42.6}}},
   {"data":{"values":[{}]},"mark":{"type":"text","text":"= 0.427**","fontWeight":"bold","fontSize":13,"align":"left","baseline":"alphabetic","dx":9,"color":"black"},"encoding":{"x":{"datum":182},"y":{"datum":42.6}}}
  ]}
 ],"spacing":57,"bounds":"flush"}
]},
{"spacing":0,"vconcat":[
 {"hconcat":[
  {"title":{"text":"B","offset":-7,"dx":-9},"width":205,"height":143,"data":{"name":"b1"},"layer":[
   {"transform":[{"regression":"y","on":"x"}],"mark":{"type":"line","color":"#ff0000","strokeDash":[6,4],"strokeWidth":2},"encoding":{"x":{"field":"x","type":"quantitative"},"y":{"field":"y","type":"quantitative"}}},
   {"mark":{"type":"circle","color":"#ff0000","size":38,"opacity":1},"encoding":{"x":{"field":"x","type":"quantitative","scale":{"domain":[0,180],"nice":false},"axis":{"title":"Serum SP-A  (ng/mL)","values":[0,30,60,90,120,150,180],"labelExpr":"datum.value % 60 === 0 ? datum.label : ''"}},"y":{"field":"y","type":"quantitative","scale":{"domain":[0,5],"nice":false},"axis":{"title":"FVC (L)","values":[0,2.5,5],"format":".1f"}}}},
   {"data":{"values":[{}]},"mark":{"type":"text","text":"r","fontStyle":"italic","fontWeight":"bold","fontSize":13,"align":"left","baseline":"alphabetic","color":"black"},"encoding":{"x":{"datum":108.5},"y":{"datum":4.26}}},
   {"data":{"values":[{}]},"mark":{"type":"text","text":"= -0.481**","fontWeight":"bold","fontSize":13,"align":"left","baseline":"alphabetic","dx":9,"color":"black"},"encoding":{"x":{"datum":108.5},"y":{"datum":4.26}}}
  ]},
  {"width":205,"height":143,"data":{"name":"b2"},"layer":[
   {"transform":[{"regression":"y","on":"x"}],"mark":{"type":"line","color":"#ff0000","strokeDash":[6,4],"strokeWidth":2},"encoding":{"x":{"field":"x","type":"quantitative"},"y":{"field":"y","type":"quantitative"}}},
   {"mark":{"type":"circle","color":"#ff0000","size":38,"opacity":1},"encoding":{"x":{"field":"x","type":"quantitative","scale":{"domain":[0,180],"nice":false},"axis":{"title":"Serum SP-A  (ng/mL)","values":[0,30,60,90,120,150,180],"labelExpr":"datum.value % 60 === 0 ? datum.label : ''"}},"y":{"field":"y","type":"quantitative","scale":{"domain":[0,3],"nice":false},"axis":{"title":"FEV1 (L)","values":[0,1.5,3],"format":".1f"}}}},
   {"data":{"values":[{}]},"mark":{"type":"text","text":"r","fontStyle":"italic","fontWeight":"bold","fontSize":13,"align":"left","baseline":"alphabetic","color":"black"},"encoding":{"x":{"datum":108},"y":{"datum":2.56}}},
   {"data":{"values":[{}]},"mark":{"type":"text","text":"= -0.598**","fontWeight":"bold","fontSize":13,"align":"left","baseline":"alphabetic","dx":9,"color":"black"},"encoding":{"x":{"datum":108},"y":{"datum":2.56}}}
  ]},
  {"width":205,"height":143,"data":{"name":"b3"},"layer":[
   {"transform":[{"regression":"y","on":"x"}],"mark":{"type":"line","color":"#ff0000","strokeDash":[6,4],"strokeWidth":2},"encoding":{"x":{"field":"x","type":"quantitative"},"y":{"field":"y","type":"quantitative"}}},
   {"mark":{"type":"circle","color":"#ff0000","size":38,"opacity":1},"encoding":{"x":{"field":"x","type":"quantitative","scale":{"domain":[0,180],"nice":false},"axis":{"title":"Serum SP-A  (ng/mL)","values":[0,30,60,90,120,150,180],"labelExpr":"datum.value % 60 === 0 ? datum.label : ''"}},"y":{"field":"y","type":"quantitative","scale":{"domain":[0,90],"nice":false},"axis":{"title":"FEV1/FVC (%)","values":[0,45,90]}}}},
   {"data":{"values":[{}]},"mark":{"type":"text","text":"r","fontStyle":"italic","fontWeight":"bold","fontSize":13,"align":"left","baseline":"alphabetic","color":"black"},"encoding":{"x":{"datum":106},"y":{"datum":76.7}}},
   {"data":{"values":[{}]},"mark":{"type":"text","text":"= -0.545**","fontWeight":"bold","fontSize":13,"align":"left","baseline":"alphabetic","dx":9,"color":"black"},"encoding":{"x":{"datum":106},"y":{"datum":76.7}}}
  ]}
 ],"spacing":57,"bounds":"flush"},
 {"spacing":5,"vconcat":[
 {"hconcat":[
  {"width":205,"height":143,"data":{"name":"e1"},"layer":[
   {"transform":[{"regression":"y","on":"x"}],"mark":{"type":"line","color":"#ff0000","strokeDash":[6,4],"strokeWidth":2},"encoding":{"x":{"field":"x","type":"quantitative"},"y":{"field":"y","type":"quantitative"}}},
   {"mark":{"type":"circle","color":"#ff0000","size":38,"opacity":1},"encoding":{"x":{"field":"x","type":"quantitative","scale":{"domain":[0,300],"nice":false},"axis":{"title":"Serum SP-D  (ng/mL)","values":[0,50,100,150,200,250,300],"labelExpr":"datum.value % 100 === 0 ? datum.label : ''"}},"y":{"field":"y","type":"quantitative","scale":{"domain":[0,5],"nice":false},"axis":{"title":"FVC (L)","values":[0,2.5,5],"format":".1f"}}}},
   {"data":{"values":[{}]},"mark":{"type":"text","text":"r","fontStyle":"italic","fontWeight":"bold","fontSize":13,"align":"left","baseline":"alphabetic","color":"black"},"encoding":{"x":{"datum":181},"y":{"datum":4.26}}},
   {"data":{"values":[{}]},"mark":{"type":"text","text":"= -0.451**","fontWeight":"bold","fontSize":13,"align":"left","baseline":"alphabetic","dx":9,"color":"black"},"encoding":{"x":{"datum":181},"y":{"datum":4.26}}}
  ]},
  {"width":205,"height":143,"data":{"name":"e2"},"layer":[
   {"transform":[{"regression":"y","on":"x"}],"mark":{"type":"line","color":"#ff0000","strokeDash":[6,4],"strokeWidth":2},"encoding":{"x":{"field":"x","type":"quantitative"},"y":{"field":"y","type":"quantitative"}}},
   {"mark":{"type":"circle","color":"#ff0000","size":38,"opacity":1},"encoding":{"x":{"field":"x","type":"quantitative","scale":{"domain":[0,300],"nice":false},"axis":{"title":"Serum SP-D  (ng/mL)","values":[0,50,100,150,200,250,300],"labelExpr":"datum.value % 100 === 0 ? datum.label : ''"}},"y":{"field":"y","type":"quantitative","scale":{"domain":[0,3],"nice":false},"axis":{"title":"FEV1 (L)","values":[0,1.5,3],"format":".1f"}}}},
   {"data":{"values":[{}]},"mark":{"type":"text","text":"r","fontStyle":"italic","fontWeight":"bold","fontSize":13,"align":"left","baseline":"alphabetic","color":"black"},"encoding":{"x":{"datum":180},"y":{"datum":2.56}}},
   {"data":{"values":[{}]},"mark":{"type":"text","text":"= -0.480**","fontWeight":"bold","fontSize":13,"align":"left","baseline":"alphabetic","dx":9,"color":"black"},"encoding":{"x":{"datum":180},"y":{"datum":2.56}}}
  ]},
  {"width":205,"height":143,"data":{"name":"e3"},"layer":[
   {"transform":[{"regression":"y","on":"x"}],"mark":{"type":"line","color":"#ff0000","strokeDash":[6,4],"strokeWidth":2},"encoding":{"x":{"field":"x","type":"quantitative"},"y":{"field":"y","type":"quantitative"}}},
   {"mark":{"type":"circle","color":"#ff0000","size":38,"opacity":1},"encoding":{"x":{"field":"x","type":"quantitative","scale":{"domain":[0,300],"nice":false},"axis":{"title":"Serum SP-D  (ng/mL)","values":[0,50,100,150,200,250,300],"labelExpr":"datum.value % 100 === 0 ? datum.label : ''"}},"y":{"field":"y","type":"quantitative","scale":{"domain":[0,90],"nice":false},"axis":{"title":"FEV1/FVC (%)","values":[0,45,90]}}}},
   {"data":{"values":[{}]},"mark":{"type":"text","text":"r","fontStyle":"italic","fontWeight":"bold","fontSize":13,"align":"left","baseline":"alphabetic","color":"black"},"encoding":{"x":{"datum":177},"y":{"datum":76.7}}},
   {"data":{"values":[{}]},"mark":{"type":"text","text":"= -0.296**","fontWeight":"bold","fontSize":13,"align":"left","baseline":"alphabetic","dx":9,"color":"black"},"encoding":{"x":{"datum":177},"y":{"datum":76.7}}}
  ]}
 ],"spacing":57,"bounds":"flush"},
 {"hconcat":[
  {"width":205,"height":143,"data":{"name":"f1"},"layer":[
   {"transform":[{"regression":"y","on":"x"}],"mark":{"type":"line","color":"#ff0000","strokeDash":[6,4],"strokeWidth":2},"encoding":{"x":{"field":"x","type":"quantitative"},"y":{"field":"y","type":"quantitative"}}},
   {"mark":{"type":"circle","color":"#ff0000","size":38,"opacity":1},"encoding":{"x":{"field":"x","type":"quantitative","scale":{"domain":[10,50],"nice":false,"zero":false},"axis":{"title":"BALF SP-D (ng/mL)","values":[10,20,30,40,50]}},"y":{"field":"y","type":"quantitative","scale":{"domain":[0,5],"nice":false},"axis":{"title":"FVC (L)","values":[0,1,2,3,4,5]}}}},
   {"data":{"values":[{}]},"mark":{"type":"text","text":"r","fontStyle":"italic","fontWeight":"bold","fontSize":13,"align":"left","baseline":"alphabetic","color":"black"},"encoding":{"x":{"datum":36.3},"y":{"datum":4.15}}},
   {"data":{"values":[{}]},"mark":{"type":"text","text":"= 0.407*","fontWeight":"bold","fontSize":13,"align":"left","baseline":"alphabetic","dx":9,"color":"black"},"encoding":{"x":{"datum":36.3},"y":{"datum":4.15}}}
  ]},
  {"width":205,"height":143,"data":{"name":"f2"},"layer":[
   {"transform":[{"regression":"y","on":"x"}],"mark":{"type":"line","color":"#ff0000","strokeDash":[6,4],"strokeWidth":2},"encoding":{"x":{"field":"x","type":"quantitative"},"y":{"field":"y","type":"quantitative"}}},
   {"mark":{"type":"circle","color":"#ff0000","size":38,"opacity":1},"encoding":{"x":{"field":"x","type":"quantitative","scale":{"domain":[0,50],"nice":false},"axis":{"title":"BALF SP-A (ng/mL)","values":[0,10,20,30,40,50]}},"y":{"field":"y","type":"quantitative","scale":{"domain":[0,2.5],"nice":false},"axis":{"title":"FEV1 (L)","values":[0,0.5,1,1.5,2,2.5],"format":".1f"}}}},
   {"data":{"values":[{}]},"mark":{"type":"text","text":"r","fontStyle":"italic","fontWeight":"bold","fontSize":13,"align":"left","baseline":"alphabetic","color":"black"},"encoding":{"x":{"datum":32.8},"y":{"datum":2.08}}},
   {"data":{"values":[{}]},"mark":{"type":"text","text":"= 0.387*","fontWeight":"bold","fontSize":13,"align":"left","baseline":"alphabetic","dx":9,"color":"black"},"encoding":{"x":{"datum":32.8},"y":{"datum":2.08}}}
  ]},
  {"width":205,"height":143,"data":{"name":"f3"},"layer":[
   {"transform":[{"regression":"y","on":"x"}],"mark":{"type":"line","color":"#ff0000","strokeDash":[6,4],"strokeWidth":2},"encoding":{"x":{"field":"x","type":"quantitative"},"y":{"field":"y","type":"quantitative"}}},
   {"mark":{"type":"circle","color":"#ff0000","size":38,"opacity":1},"encoding":{"x":{"field":"x","type":"quantitative","scale":{"domain":[10,50],"nice":false,"zero":false},"axis":{"title":"BALF SP-D (ng/mL)","values":[10,20,30,40,50]}},"y":{"field":"y","type":"quantitative","scale":{"domain":[0,2.5],"nice":false},"axis":{"title":"FEV1 (L)","values":[0,0.5,1,1.5,2,2.5],"format":".1f"}}}},
   {"data":{"values":[{}]},"mark":{"type":"text","text":"r","fontStyle":"italic","fontWeight":"bold","fontSize":13,"align":"left","baseline":"alphabetic","color":"black"},"encoding":{"x":{"datum":34.4},"y":{"datum":2.08}}},
   {"data":{"values":[{}]},"mark":{"type":"text","text":"= 0.479**","fontWeight":"bold","fontSize":13,"align":"left","baseline":"alphabetic","dx":9,"color":"black"},"encoding":{"x":{"datum":34.4},"y":{"datum":2.08}}}
  ]}
 ],"spacing":57,"bounds":"flush"}
 ]}
]},
{"vconcat":[
 {"hconcat":[
  {"title":{"text":"C","offset":0,"dx":-9},"width":205,"height":143,"data":{"name":"c1"},"layer":[
   {"transform":[{"regression":"y","on":"x"}],"mark":{"type":"line","color":"#ff0000","strokeDash":[6,4],"strokeWidth":2},"encoding":{"x":{"field":"x","type":"quantitative"},"y":{"field":"y","type":"quantitative"}}},
   {"mark":{"type":"circle","color":"#ff0000","size":38,"opacity":1},"encoding":{"x":{"field":"x","type":"quantitative","scale":{"domain":[0,200],"nice":false},"axis":{"title":"Serum SP-A  (ng/mL)","values":[0,50,100,150,200]}},"y":{"field":"y","type":"quantitative","scale":{"domain":[0,50],"nice":false},"axis":{"title":"Length of stay (day)","values":[0,10,20,30,40,50]}}}},
   {"data":{"values":[{}]},"mark":{"type":"text","text":"r","fontStyle":"italic","fontWeight":"bold","fontSize":13,"align":"left","baseline":"alphabetic","color":"black"},"encoding":{"x":{"datum":124.6},"y":{"datum":43}}},
   {"data":{"values":[{}]},"mark":{"type":"text","text":"= 0.286**","fontWeight":"bold","fontSize":13,"align":"left","baseline":"alphabetic","dx":9,"color":"black"},"encoding":{"x":{"datum":124.6},"y":{"datum":43}}}
  ]},
  {"width":205,"height":143,"data":{"name":"c2"},"layer":[
   {"transform":[{"regression":"y","on":"x"}],"mark":{"type":"line","color":"#ff0000","strokeDash":[6,4],"strokeWidth":2},"encoding":{"x":{"field":"x","type":"quantitative"},"y":{"field":"y","type":"quantitative"}}},
   {"mark":{"type":"circle","color":"#ff0000","size":38,"opacity":1},"encoding":{"x":{"field":"x","type":"quantitative","scale":{"domain":[0,300],"nice":false},"axis":{"title":"Serum SP-D  (ng/mL)","values":[0,100,200,300]}},"y":{"field":"y","type":"quantitative","scale":{"domain":[0,50],"nice":false},"axis":{"title":"Length of stay (day)","values":[0,10,20,30,40,50]}}}},
   {"data":{"values":[{}]},"mark":{"type":"text","text":"r","fontStyle":"italic","fontWeight":"bold","fontSize":13,"align":"left","baseline":"alphabetic","color":"black"},"encoding":{"x":{"datum":186},"y":{"datum":43}}},
   {"data":{"values":[{}]},"mark":{"type":"text","text":"= 0.303**","fontWeight":"bold","fontSize":13,"align":"left","baseline":"alphabetic","dx":9,"color":"black"},"encoding":{"x":{"datum":186},"y":{"datum":43}}}
  ]}
 ],"spacing":57,"bounds":"flush"}
]}
],
"spacing":-9.5
}
